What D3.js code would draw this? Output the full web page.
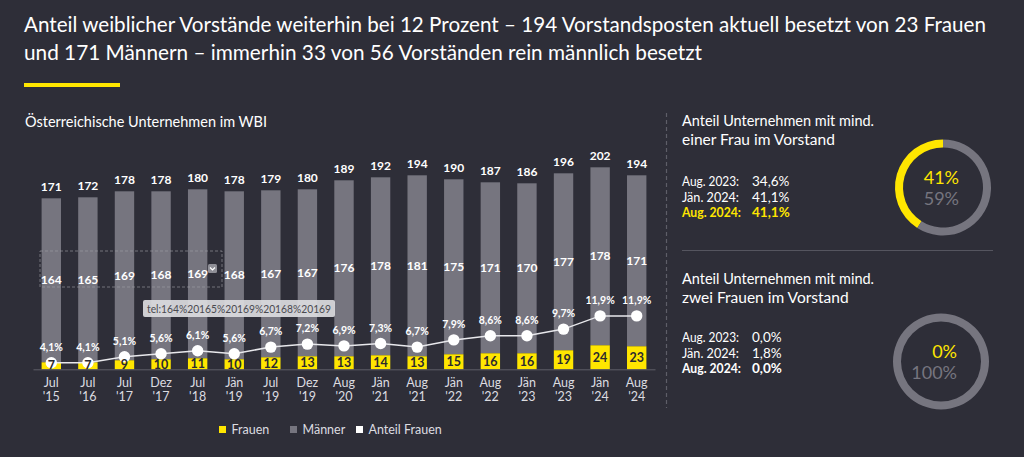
<!DOCTYPE html>
<html><head><meta charset="utf-8">
<script src="https://cdn.jsdelivr.net/npm/d3@7"></script>
<style>
html,body{margin:0;padding:0;background:#2e2e38;}
svg{display:block;font-family:Lato,"Open Sans",sans-serif;}
</style></head>
<body>
<script>
const categories = ["Jul|'15","Jul|'16","Jul|'17","Dez|'17","Jul|'18","Jän|'19","Jul|'19","Dez|'19","Aug|'20","Jän|'21","Aug|'21","Jän|'22","Aug|'22","Jän|'23","Aug|'23","Jän|'24","Aug|'24"];
const frauen = [7,7,9,10,11,10,12,13,13,14,13,15,16,16,19,24,23];
const maenner = [164,165,169,168,169,168,167,167,176,178,181,175,171,170,177,178,171];
const anteilFrauen = [4.1,4.1,5.1,5.6,6.1,5.6,6.7,7.2,6.9,7.3,6.7,7.9,8.6,8.6,9.7,11.9,11.9];
const legendLabels = ["Frauen","Männer","Anteil Frauen"];
const panel1Rows = [["Aug. 2023:","34,6%"],["Jän. 2024:","41,1%"],["Aug. 2024:","41,1%"]];
const panel2Rows = [["Aug. 2023:","0,0%"],["Jän. 2024:","1,8%"],["Aug. 2024:","0,0%"]];
const donut1 = [41, 59];
const donut2 = [0, 100];

const W=1024,H=457;
const BG="#2e2e38", YEL="#ffe600", GRAY="#76757f", TXT="#ffffff", LT="#dcdce0";
const fmt = v => d3.format(".1f")(v).replace(".",",") + "%";

const svg = d3.select("body").append("svg").attr("width",W).attr("height",H);
svg.append("rect").attr("width",W).attr("height",H).attr("fill",BG);

// Title
svg.append("text").attr("x",24).attr("y",32).attr("fill",TXT).attr("font-size",20.5)
  .attr("textLength",962).attr("lengthAdjust","spacingAndGlyphs")
  .text("Anteil weiblicher Vorstände weiterhin bei 12 Prozent – 194 Vorstandsposten aktuell besetzt von 23 Frauen");
svg.append("text").attr("x",24).attr("y",60).attr("fill",TXT).attr("font-size",20.5)
  .attr("textLength",678).attr("lengthAdjust","spacingAndGlyphs")
  .text("und 171 Männern – immerhin 33 von 56 Vorständen rein männlich besetzt");
svg.append("rect").attr("x",24).attr("y",83).attr("width",96).attr("height",4).attr("fill",YEL);

svg.append("text").attr("x",25).attr("y",127).attr("fill",TXT).attr("font-size",14.5)
  .attr("textLength",242).attr("lengthAdjust","spacingAndGlyphs")
  .text("Österreichische Unternehmen im WBI");

// Scales
const x = d3.scaleBand().domain(categories).range([33,655]).paddingInner(0.47).paddingOuter(0.235);
const y = d3.scaleLinear().domain([0,210]).range([369.3,159.3]);
const yP = d3.scaleLinear().domain([0,15]).range([387.3,297.3]);

const data = categories.map((c,i)=>({c, f:frauen[i], m:maenner[i], p:anteilFrauen[i], t:frauen[i]+maenner[i]}));
const cx = d => x(d.c)+x.bandwidth()/2;

const g = svg.append("g");
g.selectAll(".m").data(data).join("rect")
  .attr("x",d=>x(d.c)).attr("width",x.bandwidth())
  .attr("y",d=>y(d.t)).attr("height",d=>y(d.f)-y(d.t)).attr("fill",GRAY);
g.selectAll(".f").data(data).join("rect")
  .attr("x",d=>x(d.c)).attr("width",x.bandwidth())
  .attr("y",d=>y(d.f)).attr("height",d=>y(0)-y(d.f)).attr("fill",YEL);

// baseline axis
const ax = svg.append("g").attr("transform",`translate(0,${y(0)})`).call(d3.axisBottom(x).tickSize(0).tickFormat(""));
ax.select(".domain").attr("stroke","#5e5e68").attr("stroke-width",1);
categories.forEach(c=>{
  const [a,b]=c.split("|");
  const tx = x(c)+x.bandwidth()/2;
  svg.append("text").attr("x",tx).attr("y",387).attr("text-anchor","middle").attr("fill",LT).attr("font-size",12.5).text(a);
  svg.append("text").attr("x",tx).attr("y",401).attr("text-anchor","middle").attr("fill",LT).attr("font-size",12.5).text(b);
});

// total labels
g.selectAll(".tl").data(data).join("text")
  .attr("x",cx).attr("y",d=>y(d.t)-7)
  .attr("text-anchor","middle").attr("fill",TXT).attr("font-size",12).attr("font-weight",700)
  .text(d=>d.t);
// men labels
g.selectAll(".ml").data(data).join("text")
  .attr("x",cx).attr("y",d=>(y(d.t)+y(d.f))/2+4)
  .attr("text-anchor","middle").attr("fill",TXT).attr("font-size",12).attr("font-weight",700)
  .text(d=>d.m);

// dashed selection rectangle and icon (as in the screenshot)
svg.append("rect").attr("x",40).attr("y",251).attr("width",182).attr("height",36)
  .attr("fill","none").attr("stroke","#a0a0a8").attr("stroke-opacity",0.6).attr("stroke-dasharray","3,2");
svg.append("rect").attr("x",208).attr("y",264).attr("width",9).attr("height",9).attr("rx",1.5).attr("fill","#8e8e96");
svg.append("path").attr("d","M210,267.5 L212.5,270 L215,267.5").attr("fill","none").attr("stroke","#fff").attr("stroke-width",1.2);

// line
const line = d3.line().x(cx).y(d=>yP(d.p));
g.append("path").datum(data).attr("d",line).attr("fill","none").attr("stroke","#e8e8ec").attr("stroke-width",1.5);
g.selectAll(".pt").data(data).join("circle")
  .attr("cx",cx).attr("cy",d=>yP(d.p)).attr("r",5.7).attr("fill","#fff");
g.selectAll(".pl").data(data).join("text")
  .attr("x",cx).attr("y",d=>yP(d.p)-12)
  .attr("text-anchor","middle").attr("fill",TXT).attr("font-size",10.5).attr("font-weight",700)
  .text(d=>fmt(d.p));

// women labels
g.selectAll(".fl").data(data).join("text")
  .attr("x",cx).attr("y",d=>(y(0)+y(d.f))/2+4.5)
  .attr("text-anchor","middle").attr("fill","#2a2a30").attr("font-size",12.5).attr("font-weight",700)
  .text(d=>d.f);

// tooltip (as in the screenshot)
svg.append("rect").attr("x",143).attr("y",300).attr("width",192).attr("height",17).attr("rx",2)
  .attr("fill","#dcdcdf").attr("fill-opacity",0.92);
svg.append("text").attr("x",239).attr("y",312.5).attr("text-anchor","middle").attr("fill","#4a4a50")
  .attr("font-size",12).attr("textLength",184).attr("lengthAdjust","spacingAndGlyphs")
  .text("tel:164%20165%20169%20168%20169");

// legend
const legColors=[YEL,GRAY,"#ffffff"];
const legX=[219,290,356];
legendLabels.forEach((l,i)=>{
  svg.append("rect").attr("x",legX[i]).attr("y",426).attr("width",7).attr("height",7).attr("fill",legColors[i]);
  svg.append("text").attr("x",legX[i]+12.5).attr("y",433.5).attr("fill",LT).attr("font-size",12.5).text(l);
});

// separators
svg.append("line").attr("x1",666.5).attr("x2",666.5).attr("y1",113).attr("y2",408)
  .attr("stroke","#5e5e68").attr("stroke-width",1.2).attr("stroke-dasharray","4,3");
svg.append("line").attr("x1",682).attr("x2",993).attr("y1",250.5).attr("y2",250.5)
  .attr("stroke","#55555f").attr("stroke-width",1.2);

function panel(ty, l1, l2, rows, baseRow, lastColor){
  svg.append("text").attr("x",682).attr("y",ty).attr("fill",TXT).attr("font-size",15.5)
    .attr("textLength",192).attr("lengthAdjust","spacingAndGlyphs").text(l1);
  svg.append("text").attr("x",682).attr("y",ty+18.5).attr("fill",TXT).attr("font-size",15.5).text(l2);
  rows.forEach((r,i)=>{
    const last = i===rows.length-1;
    const col = last ? lastColor : TXT;
    svg.append("text").attr("x",682).attr("y",baseRow+i*15.7).attr("fill",col).attr("font-size",13.5)
      .attr("font-weight",last?700:400).attr("textLength",last?59:57).attr("lengthAdjust","spacingAndGlyphs").text(r[0]);
    svg.append("text").attr("x",752).attr("y",baseRow+i*15.7).attr("fill",col).attr("font-size",13.5)
      .attr("font-weight",last?700:400).text(r[1]);
  });
}
panel(126,"Anteil Unternehmen mit mind.","einer Frau im Vorstand",panel1Rows,186,YEL);
panel(284,"Anteil Unternehmen mit mind.","zwei Frauen im Vorstand",panel2Rows,342,TXT);

function donut(dx,dy,vals){
  const arcs = d3.pie().sort(null).value(d=>d).startAngle(0).endAngle(-2*Math.PI)(vals);
  const arc = d3.arc().innerRadius(40).outerRadius(48);
  const gg = svg.append("g").attr("transform",`translate(${dx},${dy})`);
  gg.selectAll("path").data(arcs).join("path").attr("d",arc).attr("fill",(d,i)=>i===0?YEL:GRAY);
  gg.append("text").attr("x",16).attr("y",-4).attr("text-anchor","end").attr("fill",YEL).attr("font-size",18).text(vals[0]+"%");
  gg.append("text").attr("x",16).attr("y",17.5).attr("text-anchor","end").attr("fill",GRAY).attr("font-size",18).text(vals[1]+"%");
}
donut(943,187.5,donut1);
donut(941,361.5,donut2);
</script>
</body></html>
